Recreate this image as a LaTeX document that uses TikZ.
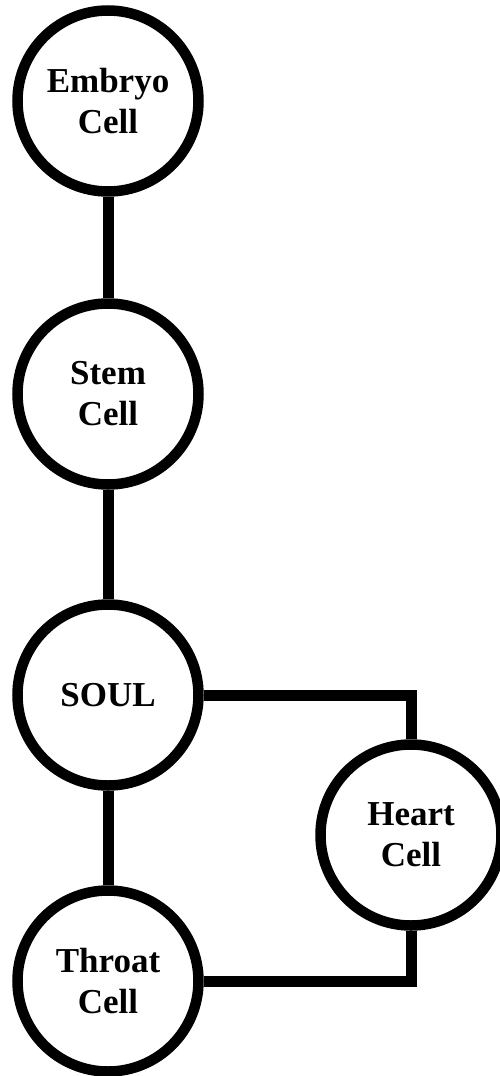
\documentclass[tikz,border=0pt]{standalone}
\usepackage{fontspec}
\setmainfont{Liberation Serif}
\begin{document}
\begin{tikzpicture}[x=1pt,y=-1pt,
  cell/.style={draw=black, line width=10.5pt, circle, minimum size=181pt, inner sep=0pt,
    align=center, font=\fontsize{35}{41}\selectfont\bfseries, text=black},
  link/.style={draw=black, line width=11pt}]
\useasboundingbox[fill=white] (0,0) rectangle (499,1076);
\node[cell] (emb) at (108,101) {Embryo\\Cell};
\node[cell] (stem) at (108,394) {Stem\\Cell};
\node[cell] (soul) at (108,695) {SOUL};
\node[cell] (heart) at (411,835) {Heart\\Cell};
\node[cell] (throat) at (108,981) {Throat\\Cell};
\draw[link] (emb) -- (stem);
\draw[link] (stem) -- (soul);
\draw[link] (soul) -- (throat);
\draw[link] (soul.east) -| (heart.north);
\draw[link] (throat.east) -| (heart.south);
\end{tikzpicture}
\end{document}
